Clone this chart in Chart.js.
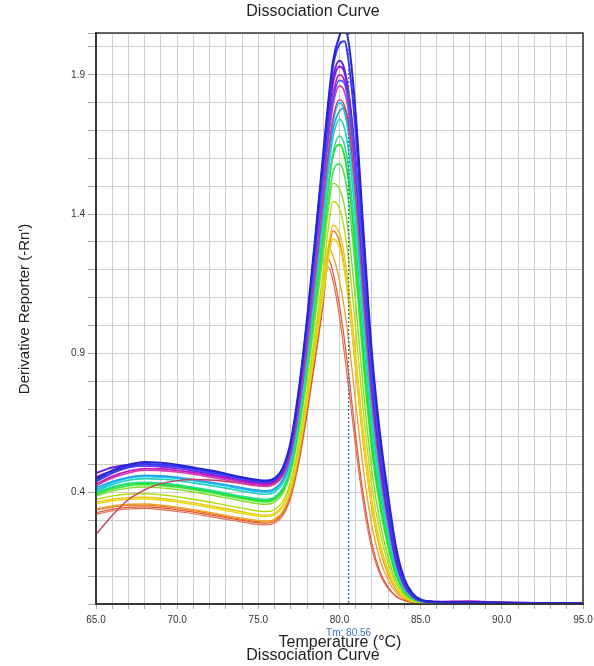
<!DOCTYPE html>
<html>
<head>
<meta charset="utf-8">
<script src="https://cdn.jsdelivr.net/npm/chart.js@4.4.1/dist/chart.umd.min.js"></script>
<style>
html,body{margin:0;padding:0;background:#fff;}
canvas{display:block;}
</style>
</head>
<body>
<canvas id="c" width="594" height="666" style="width:594px;height:666px"></canvas>
<script>
// ---------- DATA ----------
const temps = [65, 66, 67, 68, 69, 70, 71, 72, 73, 74, 75, 75.5, 76, 76.5, 77, 77.5, 78, 78.5, 79, 79.3, 79.6, 80, 80.3, 80.6, 81, 81.5, 82, 82.5, 83, 83.5, 84, 84.5, 85, 86, 88, 90, 92, 95];

const blue1 = [0.450,0.480,0.500,0.510,0.507,0.500,0.490,0.480,0.468,0.455,0.445,0.443,0.452,0.488,0.585,0.775,1.025,1.315,1.620,1.800,1.950,2.040,2.070,2.000,1.760,1.320,0.900,0.610,0.390,0.200,0.090,0.038,0.016,0.008,0.006,0.005,0.004,0.003];
const blue2 = [0.440,0.470,0.492,0.503,0.500,0.495,0.486,0.476,0.465,0.452,0.442,0.440,0.448,0.482,0.575,0.760,1.005,1.295,1.600,1.780,1.930,2.010,2.020,1.930,1.690,1.260,0.860,0.580,0.360,0.180,0.080,0.034,0.014,0.007,0.005,0.004,0.003,0.003];
const blueViolet = [0.445,0.472,0.490,0.498,0.496,0.490,0.482,0.472,0.461,0.449,0.440,0.438,0.446,0.478,0.566,0.742,0.975,1.240,1.520,1.680,1.810,1.880,1.870,1.780,1.570,1.190,0.820,0.560,0.350,0.175,0.078,0.032,0.013,0.007,0.005,0.004,0.003,0.003];
const violet = [0.470,0.490,0.500,0.502,0.498,0.492,0.483,0.473,0.462,0.450,0.440,0.437,0.445,0.480,0.572,0.760,1.010,1.300,1.590,1.760,1.890,1.950,1.920,1.810,1.560,1.150,0.780,0.510,0.310,0.150,0.066,0.028,0.012,0.007,0.005,0.004,0.003,0.003];
const purple = [0.455,0.478,0.492,0.496,0.493,0.487,0.478,0.468,0.457,0.445,0.436,0.434,0.442,0.475,0.565,0.748,0.990,1.275,1.565,1.740,1.870,1.930,1.910,1.820,1.590,1.190,0.820,0.540,0.330,0.165,0.072,0.030,0.013,0.007,0.005,0.004,0.003,0.003];
const magenta = [0.430,0.458,0.477,0.486,0.485,0.480,0.472,0.462,0.451,0.440,0.431,0.429,0.437,0.468,0.552,0.728,0.962,1.240,1.530,1.700,1.830,1.900,1.880,1.790,1.560,1.160,0.790,0.520,0.320,0.160,0.070,0.030,0.013,0.008,0.010,0.006,0.004,0.003];
const pink = [0.425,0.452,0.470,0.480,0.479,0.474,0.466,0.456,0.445,0.434,0.426,0.424,0.432,0.462,0.543,0.712,0.940,1.210,1.490,1.660,1.790,1.860,1.840,1.750,1.520,1.120,0.760,0.500,0.305,0.150,0.066,0.028,0.012,0.008,0.009,0.006,0.004,0.003];
const crimson = [0.250,0.318,0.375,0.410,0.432,0.443,0.447,0.445,0.440,0.432,0.424,0.422,0.430,0.460,0.540,0.700,0.920,1.180,1.450,1.615,1.745,1.810,1.790,1.700,1.470,1.080,0.730,0.480,0.290,0.145,0.063,0.027,0.012,0.007,0.006,0.005,0.004,0.003];
const skyBlue = [0.418,0.440,0.455,0.462,0.460,0.455,0.447,0.438,0.428,0.417,0.408,0.406,0.414,0.447,0.530,0.695,0.915,1.170,1.430,1.590,1.705,1.770,1.780,1.720,1.530,1.150,0.800,0.540,0.340,0.175,0.078,0.033,0.014,0.007,0.005,0.004,0.003,0.003];
const cyan = [0.410,0.435,0.452,0.458,0.456,0.451,0.443,0.434,0.424,0.413,0.404,0.402,0.410,0.442,0.525,0.690,0.910,1.165,1.430,1.600,1.730,1.800,1.770,1.670,1.430,1.040,0.700,0.455,0.275,0.135,0.059,0.025,0.011,0.006,0.005,0.004,0.003,0.003];
const teal = [0.405,0.428,0.444,0.450,0.448,0.443,0.435,0.426,0.416,0.405,0.396,0.394,0.402,0.433,0.514,0.675,0.888,1.135,1.390,1.550,1.675,1.740,1.710,1.610,1.370,0.990,0.660,0.425,0.255,0.125,0.055,0.023,0.010,0.006,0.005,0.004,0.003,0.003];
const aqua = [0.400,0.420,0.433,0.437,0.434,0.428,0.419,0.409,0.398,0.387,0.378,0.376,0.384,0.415,0.496,0.652,0.860,1.100,1.345,1.500,1.620,1.680,1.650,1.545,1.300,0.930,0.615,0.395,0.235,0.115,0.050,0.021,0.009,0.006,0.005,0.004,0.003,0.003];
const green1 = [0.398,0.418,0.430,0.433,0.430,0.424,0.415,0.405,0.394,0.383,0.373,0.371,0.379,0.410,0.490,0.645,0.850,1.085,1.330,1.490,1.610,1.650,1.610,1.500,1.250,0.880,0.575,0.365,0.215,0.105,0.046,0.019,0.009,0.005,0.004,0.004,0.003,0.003];
const green2 = [0.392,0.412,0.424,0.428,0.425,0.419,0.410,0.400,0.389,0.378,0.368,0.366,0.374,0.404,0.482,0.632,0.830,1.055,1.290,1.440,1.550,1.580,1.540,1.430,1.190,0.840,0.545,0.345,0.203,0.098,0.043,0.018,0.008,0.005,0.004,0.003,0.003,0.003];
const lime = [0.388,0.405,0.416,0.420,0.417,0.411,0.402,0.392,0.381,0.370,0.360,0.358,0.366,0.396,0.472,0.618,0.810,1.025,1.255,1.410,1.510,1.490,1.430,1.310,1.080,0.750,0.475,0.292,0.168,0.082,0.036,0.015,0.007,0.005,0.004,0.003,0.003,0.003];
const yellowGreen = [0.375,0.388,0.395,0.396,0.392,0.385,0.376,0.366,0.355,0.344,0.334,0.332,0.339,0.368,0.440,0.580,0.765,0.975,1.195,1.345,1.445,1.420,1.345,1.220,0.985,0.672,0.420,0.255,0.145,0.070,0.031,0.013,0.006,0.004,0.003,0.003,0.003,0.003];
const yellow = [0.360,0.370,0.376,0.377,0.373,0.366,0.357,0.347,0.336,0.325,0.316,0.314,0.320,0.348,0.418,0.550,0.725,0.920,1.110,1.235,1.310,1.280,1.200,1.070,0.850,0.570,0.350,0.205,0.115,0.055,0.024,0.010,0.005,0.004,0.003,0.003,0.003,0.003];
const gold = [0.366,0.376,0.382,0.383,0.379,0.372,0.363,0.353,0.342,0.331,0.321,0.319,0.325,0.354,0.425,0.560,0.740,0.945,1.150,1.280,1.360,1.330,1.250,1.120,0.890,0.600,0.370,0.218,0.122,0.058,0.025,0.011,0.005,0.004,0.003,0.003,0.003,0.003];
const orange = [0.342,0.352,0.358,0.359,0.355,0.348,0.339,0.329,0.318,0.308,0.300,0.298,0.304,0.332,0.402,0.535,0.715,0.915,1.115,1.280,1.250,1.160,1.060,0.930,0.720,0.470,0.280,0.158,0.085,0.040,0.018,0.008,0.005,0.004,0.003,0.003,0.003,0.003];
const darkOrange = [0.338,0.348,0.354,0.355,0.351,0.344,0.335,0.325,0.314,0.304,0.296,0.294,0.300,0.328,0.398,0.530,0.710,0.915,1.120,1.250,1.340,1.300,1.210,1.070,0.840,0.560,0.340,0.195,0.105,0.050,0.022,0.009,0.005,0.004,0.003,0.003,0.003,0.003];
const redOrange = [0.328,0.340,0.347,0.349,0.345,0.338,0.330,0.320,0.310,0.300,0.292,0.290,0.296,0.323,0.390,0.518,0.690,0.880,1.080,1.240,1.190,1.070,0.950,0.810,0.600,0.380,0.215,0.115,0.060,0.028,0.013,0.006,0.004,0.003,0.003,0.003,0.003,0.003];
const salmon = [0.322,0.334,0.341,0.343,0.339,0.332,0.324,0.314,0.304,0.294,0.286,0.284,0.290,0.316,0.382,0.508,0.680,0.875,1.090,1.210,1.160,1.030,0.900,0.760,0.560,0.350,0.195,0.105,0.055,0.026,0.012,0.006,0.004,0.003,0.003,0.003,0.003,0.003];

const seriesValues = [blue1, blue2, blueViolet, violet, purple, magenta, pink, crimson, skyBlue, cyan, teal, aqua, green1, green2, lime, yellowGreen, yellow, gold, orange, darkOrange, redOrange, salmon];
const seriesColors = ['#2626cc','#3838f2','#4f4fff','#6a1ee0','#8c14d6','#c01cc0','#d83ca8','#c83c64','#28a0f0','#14c8e6','#1ed2be','#28dc96','#1ee01e','#46e646','#82dc28','#b4dc0a','#e6dc14','#f0c30a','#f0a01e','#e67828','#e6502d','#dc6e5a'];
const seriesWidths = [2,2,1.8,2,2,1.8,1.6,1.4,1.6,1.8,1.6,1.6,1.8,1.6,1.4,1.4,1.6,1.4,1.3,1.3,1.2,1.2];

const xLabeledTicks = [65, 70, 75, 80, 85, 90, 95];
const yLabeledTicks = [0.4, 0.9, 1.4, 1.9];
const tmValue = 80.56;
const tmLabel = 'Tm: 80.56';
const chartTitle = 'Dissociation Curve';
const xTitle = 'Temperature (°C)';
const yTitle = "Derivative Reporter (-Rn')";

// ---------- CHART ----------
const FONT = "'Liberation Sans', Arial, sans-serif";

const datasets = seriesValues.map((vals, i) => ({
  label: 'Well ' + (i + 1),
  data: temps.map((t, k) => ({ x: t, y: vals[k] })),
  borderColor: seriesColors[i],
  borderWidth: seriesWidths[i],
  pointRadius: 0,
  fill: false,
  cubicInterpolationMode: 'monotone'
}));

const decor = {
  id: 'decor',
  afterDatasetsDraw(chart) {
    const ctx = chart.ctx, a = chart.chartArea;
    const xs = chart.scales.x;
    const tx = xs.getPixelForValue(tmValue);
    ctx.save();
    ctx.strokeStyle = '#3a74b0';
    ctx.lineWidth = 1.4;
    ctx.setLineDash([2, 2]);
    ctx.beginPath();
    ctx.moveTo(tx, a.top);
    ctx.lineTo(tx, a.bottom);
    ctx.stroke();
    ctx.setLineDash([]);
    ctx.strokeStyle = '#333';
    ctx.lineWidth = 1.5;
    ctx.strokeRect(a.left, a.top, a.right - a.left, a.bottom - a.top);
    ctx.restore();
  },
  afterDraw(chart) {
    const ctx = chart.ctx;
    const xs = chart.scales.x;
    const tx = xs.getPixelForValue(tmValue);
    ctx.save();
    ctx.textAlign = 'center';
    ctx.textBaseline = 'middle';
    ctx.fillStyle = '#222';
    ctx.font = '16px ' + FONT;
    ctx.fillText(chartTitle, 313, 12);
    ctx.fillStyle = '#3a74b0';
    ctx.font = '10px ' + FONT;
    ctx.fillText(tmLabel, tx, 633);
    ctx.fillStyle = '#222';
    ctx.font = '16px ' + FONT;
    ctx.fillText(xTitle, 340, 643);
    ctx.fillText(chartTitle, 313, 656);
    ctx.translate(25, 309);
    ctx.rotate(-Math.PI / 2);
    ctx.font = '15px ' + FONT;
    ctx.fillText(yTitle, 0, 0);
    ctx.restore();
  }
};

new Chart(document.getElementById('c'), {
  type: 'line',
  data: { datasets },
  options: {
    responsive: false,
    devicePixelRatio: 1,
    animation: false,
    layout: { padding: { left: 0, right: 11, top: 33, bottom: 0 } },
    plugins: { legend: { display: false }, title: { display: false }, tooltip: { enabled: false } },
    scales: {
      x: {
        type: 'linear', min: 65, max: 95,
        ticks: {
          stepSize: 1, autoSkip: false, maxRotation: 0, minRotation: 0,
          font: { family: FONT, size: 10 }, color: '#333', padding: 5,
          callback: v => xLabeledTicks.some(t => Math.abs(t - v) < 1e-6) ? v.toFixed(1) : ''
        },
        grid: { color: '#cdcdcd', lineWidth: 1, tickLength: 5, tickColor: '#aaa' },
        border: { color: '#444', width: 2 },
        afterFit(s) { s.height = 62; s.paddingLeft = 0; s.paddingRight = 0; }
      },
      y: {
        type: 'linear', min: 0, max: 2.05,
        ticks: {
          stepSize: 0.1, autoSkip: false,
          font: { family: FONT, size: 10 }, color: '#333', padding: 3,
          callback: v => yLabeledTicks.some(t => Math.abs(t - v) < 1e-6) ? v.toFixed(1) : ''
        },
        grid: { color: '#cdcdcd', lineWidth: 1, tickLength: 8, tickColor: '#aaa' },
        border: { color: '#444', width: 2 },
        afterFit(s) { s.width = 96; s.paddingTop = 0; s.paddingBottom = 0; }
      }
    }
  },
  plugins: [decor]
});
</script>
</body>
</html>
